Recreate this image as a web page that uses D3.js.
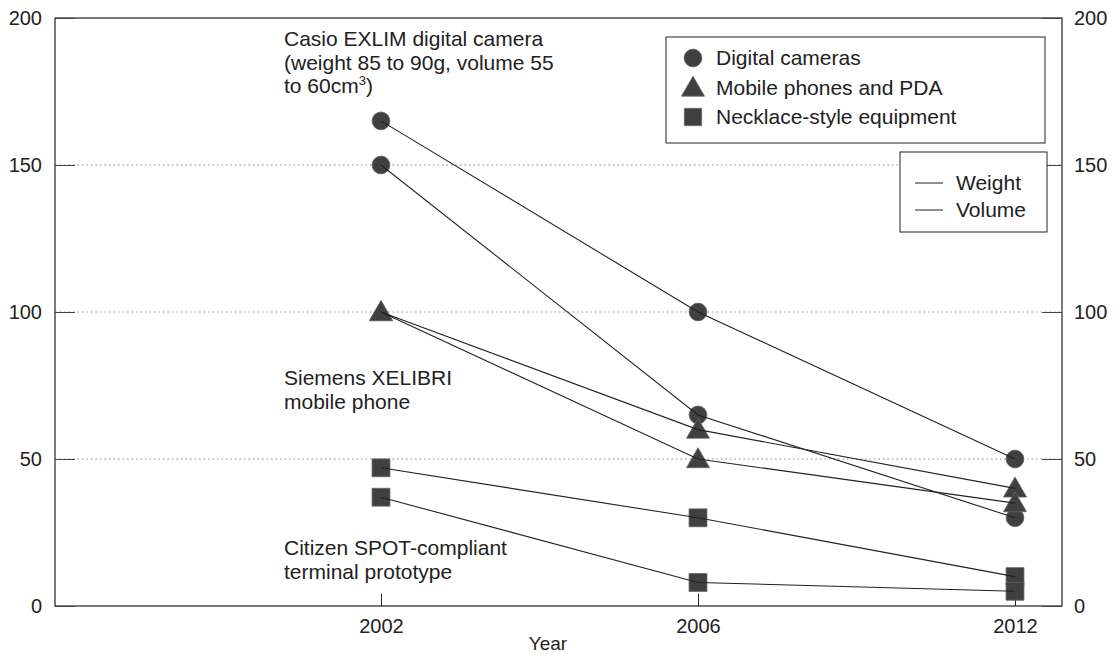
<!DOCTYPE html>
<html>
<head>
<meta charset="utf-8">
<script src="https://cdn.jsdelivr.net/npm/d3@7"></script>
<style>
  body { margin: 0; background: #fff; }
  text { font-family: "Liberation Sans", Arial, sans-serif; fill: #222; }
</style>
</head>
<body>
<div id="chart"></div>
<script>
// data
const years = ["2002", "2006", "2012"];
const yTicks = [0, 50, 100, 150, 200];

const cameraWeight = [165, 100, 50];
const cameraVolume = [150, 65, 30];
const phoneWeight = [100, 60, 40];
const phoneVolume = [100, 50, 35];
const necklaceWeight = [47, 30, 10];
const necklaceVolume = [37, 8, 5];

const seriesNames = ["Digital cameras", "Mobile phones and PDA", "Necklace-style equipment"];
const measureNames = ["Weight", "Volume"];

const width = 1114, height = 655;
const margin = {top: 18, right: 52, bottom: 49, left: 55};
const w = width - margin.left - margin.right;
const h = height - margin.top - margin.bottom;

const markColor = "#404040";

const svg = d3.select("#chart").append("svg")
  .attr("width", width)
  .attr("height", height);

const g = svg.append("g")
  .attr("transform", `translate(${margin.left},${margin.top})`);

// x is categorical, the years are not evenly spaced in time
const x = d3.scalePoint()
  .domain(years)
  .range([326, w - 47]);

const y = d3.scaleLinear()
  .domain([0, 200])
  .range([h, 0]);

// dotted gridlines
g.selectAll(".grid")
  .data(yTicks.filter(d => d > 0 && d < 200))
  .enter().append("line")
  .attr("class", "grid")
  .attr("x1", 0).attr("x2", w)
  .attr("y1", d => y(d)).attr("y2", d => y(d))
  .attr("stroke", "#888")
  .attr("stroke-width", 1)
  .attr("stroke-dasharray", "1.5,3");

// frame
g.append("rect")
  .attr("x", 0).attr("y", 0)
  .attr("width", w).attr("height", h)
  .attr("fill", "none")
  .attr("stroke", "#222")
  .attr("stroke-width", 1.2);

// left axis, ticks drawn inwards
const yLeft = g.append("g")
  .call(d3.axisLeft(y).tickValues(yTicks).tickSize(-20).tickPadding(13));
yLeft.select(".domain").remove();
yLeft.selectAll("text").attr("font-size", 20).attr("fill", "#222");
yLeft.selectAll("line").attr("stroke", "#444");

const yRight = g.append("g")
  .attr("transform", `translate(${w},0)`)
  .call(d3.axisRight(y).tickValues(yTicks).tickSize(-20).tickPadding(12));
yRight.select(".domain").remove();
yRight.selectAll("text").attr("font-size", 20).attr("fill", "#222");
yRight.selectAll("line").attr("stroke", "#444");

const xAxis = g.append("g")
  .attr("transform", `translate(0,${h})`)
  .call(d3.axisBottom(x).tickSize(-12).tickPadding(11));
xAxis.select(".domain").remove();
xAxis.selectAll("text").attr("font-size", 20).attr("fill", "#222").attr("dy", "0.8em");
xAxis.selectAll("line").attr("stroke", "#222");

g.append("text")
  .attr("x", 493)
  .attr("y", h + 44)
  .attr("text-anchor", "middle")
  .attr("font-size", 19)
  .text("Year");

// series
const shapes = [d3.symbolCircle, d3.symbolTriangle, d3.symbolSquare];
const shapeSizes = [250, 230, 320];
const allSeries = [
  {shape: 0, values: cameraWeight},
  {shape: 0, values: cameraVolume},
  {shape: 1, values: phoneWeight},
  {shape: 1, values: phoneVolume},
  {shape: 2, values: necklaceWeight},
  {shape: 2, values: necklaceVolume}
];

const line = d3.line()
  .x((d, i) => x(years[i]))
  .y(d => y(d));

const markers = g.append("g");
allSeries.forEach(s => {
  markers.selectAll(null)
    .data(s.values)
    .enter().append("path")
    .attr("d", d3.symbol().type(shapes[s.shape]).size(shapeSizes[s.shape]))
    .attr("transform", (d, i) => `translate(${x(years[i])},${y(d) + (s.shape === 1 ? 2 : 0)})`)
    .attr("fill", markColor)
    .attr("stroke", "#666")
    .attr("stroke-width", 0.8);
});

allSeries.forEach(s => {
  g.append("path")
    .datum(s.values)
    .attr("d", line)
    .attr("fill", "none")
    .attr("stroke", "#222")
    .attr("stroke-width", 1.1);
});

// annotations
const fs = 21;
const notes = [
  {lines: ["Casio EXLIM digital camera", "(weight 85 to 90g, volume 55"], y: 28},
  {lines: ["Siemens XELIBRI", "mobile phone"], y: 367},
  {lines: ["Citizen SPOT-compliant", "terminal prototype"], y: 537}
];
notes.forEach(n => {
  const t = g.append("text")
    .attr("x", 229)
    .attr("y", n.y)
    .attr("font-size", fs);
  n.lines.forEach((l, i) => {
    t.append("tspan").attr("x", 229).attr("dy", i === 0 ? 0 : 23.5).text(l);
  });
});
const sup = g.append("text")
  .attr("x", 229)
  .attr("y", 28 + 47)
  .attr("font-size", fs);
sup.append("tspan").text("to 60cm");
sup.append("tspan").attr("font-size", 13).attr("dy", -8).text("3");
sup.append("tspan").attr("dy", 8).text(")");

// legend for series shapes
const leg1 = g.append("g").attr("transform", `translate(611,19)`);
leg1.append("rect")
  .attr("width", 379).attr("height", 106)
  .attr("fill", "#fff")
  .attr("stroke", "#222");
seriesNames.forEach((name, i) => {
  leg1.append("path")
    .attr("d", d3.symbol().type(shapes[i]).size([250, 230, 300][i]))
    .attr("transform", `translate(27,${21 + i * 29.5 + (i === 1 ? 2 : 0)})`)
    .attr("fill", markColor)
    .attr("stroke", "#666")
    .attr("stroke-width", 0.8);
  leg1.append("text")
    .attr("x", 50)
    .attr("y", 21 + i * 29.5)
    .attr("dy", "0.35em")
    .attr("font-size", fs)
    .text(name);
});

// legend for line meaning
const leg2 = g.append("g").attr("transform", `translate(845,134)`);
leg2.append("rect")
  .attr("width", 147).attr("height", 80)
  .attr("fill", "#fff")
  .attr("stroke", "#222");
measureNames.forEach((name, i) => {
  leg2.append("line")
    .attr("x1", 15).attr("x2", 43)
    .attr("y1", 31 + i * 27).attr("y2", 31 + i * 27)
    .attr("stroke", "#222");
  leg2.append("text")
    .attr("x", 56)
    .attr("y", 31 + i * 27)
    .attr("dy", "0.35em")
    .attr("font-size", fs)
    .text(name);
});
</script>
</body>
</html>
